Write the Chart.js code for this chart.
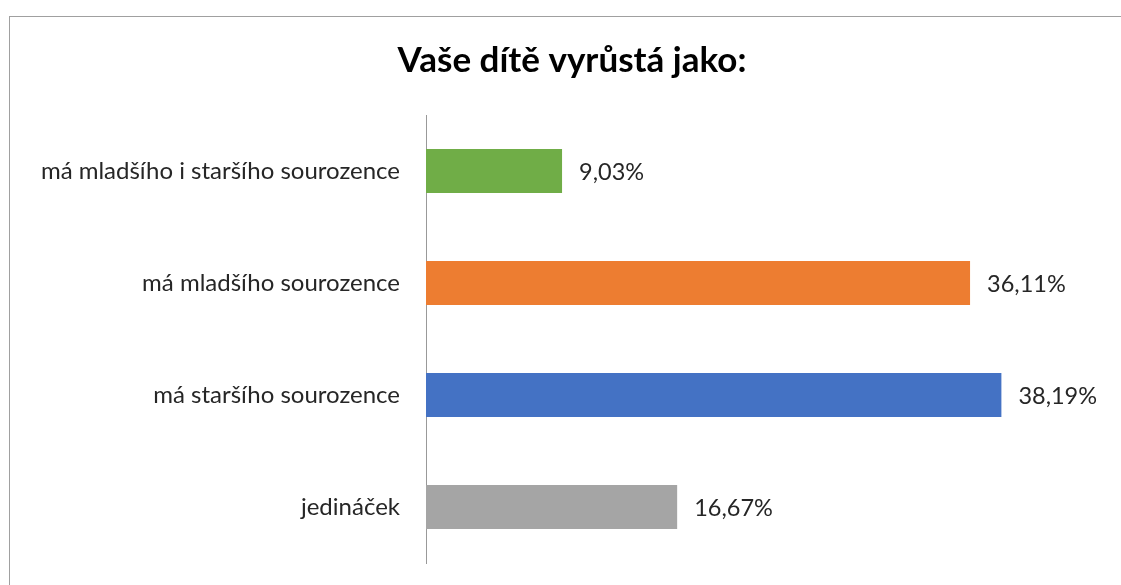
<!DOCTYPE html>
<html>
<head>
<meta charset="utf-8">
<script src="https://cdn.jsdelivr.net/npm/chart.js@4"></script>
<style>
  html, body { margin: 0; padding: 0; background: #fff; overflow: hidden; }
  #wrap { position: relative; width: 1121px; height: 585px; }
  #frame { position: absolute; left: 9px; top: 16px; width: 1120px; height: 600px; border: 1px solid #a0a0a0; box-sizing: border-box; pointer-events: none; }
  canvas { position: absolute; left: 0; top: 0; }
</style>
</head>
<body>
<div id="wrap">
  <canvas id="c" width="1121" height="585"></canvas>
  <div id="frame"></div>
</div>
<script>
const titleText = "Vaše dítě vyrůstá jako:";
const categories = ["má mladšího i staršího sourozence", "má mladšího sourozence", "má staršího sourozence", "jedináček"];
const values = [9.03, 36.11, 38.19, 16.67];
const valueLabels = ["9,03%", "36,11%", "38,19%", "16,67%"];
const barColors = ["#70ad47", "#ed7d31", "#4472c4", "#a5a5a5"];

const FONT = "Lato, 'Open Sans', sans-serif";

const dataLabelPlugin = {
  id: 'dataLabels',
  afterDatasetsDraw(chart) {
    const ctx = chart.ctx;
    const meta = chart.getDatasetMeta(0);
    ctx.save();
    ctx.font = "23.5px " + FONT;
    ctx.fillStyle = "#262626";
    ctx.textAlign = "left";
    ctx.textBaseline = "middle";
    meta.data.forEach((el, i) => {
      ctx.fillText(valueLabels[i], el.x + 17, el.y + 1);
    });
    ctx.restore();
  }
};

new Chart(document.getElementById('c'), {
  type: 'bar',
  data: {
    labels: categories,
    datasets: [{
      data: values,
      backgroundColor: barColors,
      borderWidth: 0,
      barPercentage: 0.393,
      categoryPercentage: 1.0
    }]
  },
  options: {
    indexAxis: 'y',
    responsive: false,
    animation: false,
    layout: { padding: { left: 40, right: 17, top: 0, bottom: 22 } },
    plugins: {
      legend: { display: false },
      tooltip: { enabled: false },
      title: {
        display: true,
        text: titleText,
        color: "#000",
        font: { family: FONT, size: 35, weight: 'bold', lineHeight: 1.2 },
        padding: { top: 40, bottom: 33 }
      }
    },
    scales: {
      x: {
        display: false,
        min: 0,
        max: 45
      },
      y: {
        grid: { display: false, drawTicks: false },
        border: { display: true, color: "#999999", width: 1 },
        ticks: {
          color: "#262626",
          font: { family: FONT, size: 24 },
          padding: 26
        },
        afterFit(scale) {
          scale.width = 386;
          scale.paddingTop = 0;
          scale.paddingBottom = 0;
        }
      }
    }
  },
  plugins: [dataLabelPlugin]
});
</script>
</body>
</html>
